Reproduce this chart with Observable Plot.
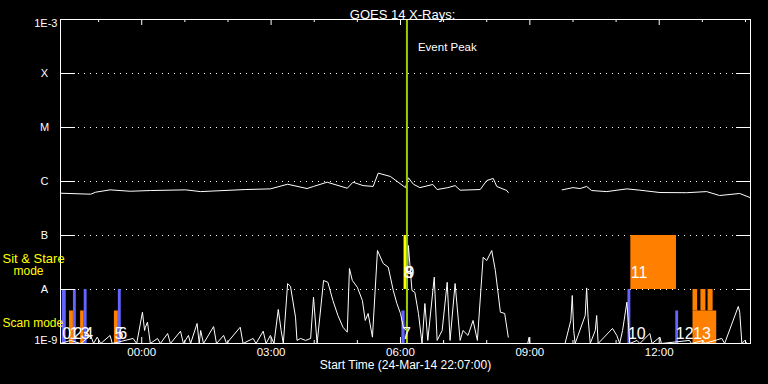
<!DOCTYPE html>
<html><head><meta charset="utf-8">
<script src="https://cdn.jsdelivr.net/npm/d3@7"></script>
<script src="https://cdn.jsdelivr.net/npm/@observablehq/plot@0.6"></script>
<style>html,body{margin:0;padding:0;background:#000;}</style>
</head><body><div id="chart"></div>
<script>
// ---- data (minutes after start time 24-Mar-14 22:07:00 UT, flux in W/m^2) ----
const startTime = "2014-03-24T22:07:00Z";
const endTime = "2014-03-25T14:07:00Z";

const longMinutes = [0,42,49,69,97,125,174,195,257,292,316,343,352,371,399,407,421,435,442,459,480,484,491,500,518,524,539,549,556,584,593,602,607,621,623,
  650,
  698,713,723,732,739,760,788,806,834,871,899,917,945,959];
const longFlux = [6.07e-7,5.82e-7,6.34e-7,7.0e-7,6.6e-7,6.8e-7,7.0e-7,6.5e-7,7.1e-7,7.3e-7,8.9e-7,7.4e-7,8.1e-7,9.7e-7,7.5e-7,9.7e-7,8.4e-7,8.1e-7,1.43e-6,1.24e-6,7.7e-7,1.17e-6,8.9e-7,7.7e-7,8.8e-7,7.1e-7,7.7e-7,8.4e-7,6.9e-7,7.1e-7,1.04e-6,1.14e-6,8.1e-7,6.8e-7,6.25e-7,
  NaN,
  7.0e-7,7.7e-7,7.4e-7,8.1e-7,6.8e-7,6.5e-7,7.3e-7,6.9e-7,6.25e-7,6.2e-7,6.5e-7,5.5e-7,6.0e-7,5.06e-7];

const shortMinutes = [0,14,28,42,46,51,56,69,72,101,106,114,117,118,121,125,135,139,149,153,167,171,178,181,190,193,195,199,213,217,227,231,250,254,268,272,282,286,292,297,
  303,307,310,316,320,327,329,334,341,348,352,357,366,372,379,386,393,399,402,406,413,420,424,428,434,441,449,456,463,468,473,477,481,484,489,493,498,503,507,511,
  520,524,531,538,542,549,556,560,567,574,580,588,593,600,605,612,618,623,
  636,650,652,653,680,
  702,710,712,714,716,730,732,734,737,744,746,748,768,774,778,782,788,790,792,802,806,820,823,834,836,875,878,894,896,920,924,943,945,948,952,955,959];
const shortFlux = [1e-9,1.14e-9,1e-9,1.41e-9,1e-9,1.31e-9,1e-9,1.41e-9,1e-9,1.24e-9,1e-9,3.8e-9,1.74e-9,1.98e-9,2.48e-9,1e-9,1.24e-9,1e-9,1.53e-9,1e-9,1.69e-9,1e-9,1.41e-9,1e-9,2.35e-9,1e-9,1.74e-9,1e-9,2.06e-9,1e-9,1.41e-9,1e-9,2.0e-9,1e-9,1.24e-9,1e-9,1.69e-9,1e-9,1.41e-9,1e-9,
  4.27e-9,1.74e-9,1e-9,1.29e-8,1.14e-8,3.07e-9,1.14e-9,1.24e-9,1.14e-9,1.24e-9,7.2e-9,1e-9,1.47e-8,1.36e-8,6.25e-9,3.3e-9,2.0e-9,1.62e-9,2.45e-8,1.47e-8,1.1e-8,6.25e-9,2.67e-9,3.6e-9,1.31e-9,5.27e-8,3.03e-8,2.59e-8,9.58e-9,5.5e-9,3.6e-9,2.0e-9,1.74e-9,6.53e-8,9.58e-9,8.9e-9,3.6e-9,1e-9,5.5e-9,1.14e-9,
  1.69e-8,1.14e-9,1.74e-9,1.36e-8,1.14e-9,1.29e-8,1.14e-9,1.74e-9,1.41e-9,2.67e-9,1.14e-9,3.96e-8,3.44e-8,5.27e-8,2.25e-8,3.8e-9,3.6e-9,1.31e-9,
  NaN,1e-9,1.31e-9,1e-9,NaN,
  1e-9,2.67e-9,7.74e-9,1.74e-9,1e-9,3.3e-9,1.07e-8,3.03e-9,1e-9,1.74e-9,3.3e-9,1e-9,1.9e-9,1.41e-9,1e-9,1.74e-9,5.82e-9,2.48e-9,1e-9,1.14e-9,1e-9,1.53e-9,1e-9,1.31e-9,1e-9,1.14e-9,1e-9,1.14e-9,1e-9,1.24e-9,1e-9,4.85e-9,3.8e-9,1e-9,1.14e-9,1e-9,1e-9];

// observation bars
const barStart = [2.5,12.5,18,28,33,75,80.5,475,478,789.5,793.5,856,880,880,891,901];
const barEnd   = [8,18,22,33,37,80.5,84.5,479.5,482,793.5,857,860,913,886.5,898,908];
const barLow   = [1e-9,1e-9,1e-9,1e-9,1e-9,1e-9,1e-9,1e-9,1e-8,1e-9,1e-8,1e-9,1e-9,4e-9,4e-9,4e-9];
const barHigh  = [1e-8,4e-9,1e-8,4e-9,1e-8,4e-9,1e-8,4e-9,1e-7,1e-8,1e-7,4e-9,4e-9,1e-8,1e-8,1e-8];
const barKind  = ["raster","dwell","raster","dwell","raster","dwell","raster","raster","flare","raster","dwell","raster","dwell","dwell","dwell","dwell"];

// event numbers
const labelText   = ["0","1","2","3","4","5","6","7","8","9","10","11","12","13"];
const labelMinute = [2.5,12.5,18,28,33,75,80.5,475,478,480,789.5,793.5,856,880];
const labelMode   = ["scan","scan","scan","scan","scan","scan","scan","scan","stare","stare","scan","stare","scan","scan"];

const eventPeakMinute = 482;

const levelValues = [1e-8,1e-7,1e-6,1e-5,1e-4];
const levelLabels = ["A","B","C","M","X"];
const endValues = [1e-9,1e-3];
const endLabels = ["1E-9","1E-3"];
const tickLabels = ["00:00","03:00","06:00","09:00","12:00"];

// ---- build ----
const t0 = new Date(startTime).getTime();
const toDate = m => new Date(t0 + m * 60000);
const longData = longMinutes.map((m, i) => ({t: toDate(m), v: longFlux[i]}));
const shortData = shortMinutes.map((m, i) => ({t: toDate(m), v: shortFlux[i]}));
const bars = barStart.map((s, i) => ({x1: toDate(s), x2: toDate(barEnd[i]), y1: barLow[i], y2: barHigh[i], kind: barKind[i]}));
const labels = labelText.map((s, i) => ({t: toDate(labelMinute[i]), text: s, mode: labelMode[i]}));
const eventTime = toDate(eventPeakMinute);
const tickTimes = tickLabels.map(s => new Date(`2014-03-25T${s}:00Z`));
const hours = d3.utcHour.range(new Date(startTime), new Date(endTime));
const majorHours = hours.filter(d => d.getUTCHours() % 3 === 0);
const minorHours = hours.filter(d => d.getUTCHours() % 3 !== 0);

const W = 768, H = 384, ML = 60, MR = 18, MT = 19, MB = 41;
const iw = W - ML - MR, ih = H - MT - MB;
const font = "Liberation Sans";

const chart = Plot.plot({
  width: W, height: H,
  marginLeft: ML, marginRight: MR, marginTop: MT, marginBottom: MB,
  style: {background: "black", color: "white", fontFamily: font},
  x: {type: "utc", domain: [new Date(startTime), new Date(endTime)], axis: null},
  y: {type: "log", domain: [1e-9, 1e-3], axis: null},
  color: {domain: ["raster", "dwell", "flare"], range: ["#6464ff", "#ff8000", "#ffff00"]},
  marks: [
    Plot.ruleY(levelValues, {y: d => d, stroke: "white", strokeDasharray: "1,5"}),
    Plot.rect(bars, {x1: "x1", x2: "x2", y1: "y1", y2: "y2", fill: "kind"}),
    Plot.line(longData, {x: "t", y: "v", stroke: "white", strokeWidth: 1}),
    Plot.line(shortData, {x: "t", y: "v", stroke: "white", strokeWidth: 1}),
    Plot.ruleX([eventTime], {x: d => d, stroke: "#99cc00", strokeWidth: 2}),
    Plot.frame({stroke: "white"}),
    Plot.tickY(levelValues, {y: d => d, stroke: "white", insetRight: iw - 15}),
    Plot.tickY(levelValues, {y: d => d, stroke: "white", insetLeft: iw - 14}),
    Plot.tickX(majorHours, {x: d => d, stroke: "white", insetBottom: ih - 6}),
    Plot.tickX(minorHours, {x: d => d, stroke: "white", insetBottom: ih - 3}),
    Plot.tickX(majorHours, {x: d => d, stroke: "white", insetTop: ih - 6}),
    Plot.tickX(minorHours, {x: d => d, stroke: "white", insetTop: ih - 3}),
    // event numbers
    Plot.text(labels.filter(d => d.mode === "scan"), {x: "t", y: () => 1e-9, text: "text", dy: -10, textAnchor: "start", fill: "white", fontSize: 16, fontFamily: font}),
    Plot.text(labels.filter(d => d.mode === "stare"), {x: "t", y: () => 1e-8, text: "text", dy: -17, textAnchor: "start", fill: "white", fontSize: 16, fontFamily: font}),
    // y labels
    Plot.text(levelValues, {y: d => d, text: (d, i) => levelLabels[i], frameAnchor: "left", dx: -16, textAnchor: "middle", fill: "white", fontSize: 11}),
    Plot.text([endValues[0]], {y: d => d, text: () => endLabels[0], frameAnchor: "left", dx: -3, dy: -3, textAnchor: "end", fill: "white", fontSize: 11}),
    Plot.text([endValues[1]], {y: d => d, text: () => endLabels[1], frameAnchor: "left", dx: -3, dy: 4, textAnchor: "end", fill: "white", fontSize: 11}),
    // mode labels
    Plot.text(["Sit & Stare"], {y: () => 1e-8, text: d => d, frameAnchor: "left", dx: -58, dy: -31, textAnchor: "start", fill: "#ffff00", fontSize: 13}),
    Plot.text(["mode"], {y: () => 1e-8, text: d => d, frameAnchor: "left", dx: -47, dy: -18, textAnchor: "start", fill: "#ffff00", fontSize: 12}),
    Plot.text(["Scan mode"], {y: () => 1e-9, text: d => d, frameAnchor: "left", dx: -58, dy: -20, textAnchor: "start", fill: "#ffff00", fontSize: 12}),
    // x tick labels
    Plot.text(tickTimes, {x: d => d, text: (d, i) => tickLabels[i], frameAnchor: "bottom", dy: 12, fill: "white", fontSize: 11.5}),
    Plot.text(["Start Time (24-Mar-14 22:07:00)"], {text: d => d, frameAnchor: "bottom", dy: 25, fill: "white", fontSize: 12}),
    // title & event label
    Plot.text(["GOES 14 X-Rays:"], {text: d => d, frameAnchor: "top", dx: -3, dy: -10, fill: "white", fontSize: 13}),
    Plot.text([eventTime], {x: d => d, text: () => "Event Peak", frameAnchor: "top", dx: 11, dy: 23, textAnchor: "start", fill: "white", fontSize: 11.5})
  ]
});
document.getElementById("chart").appendChild(chart);
</script>
</body></html>
